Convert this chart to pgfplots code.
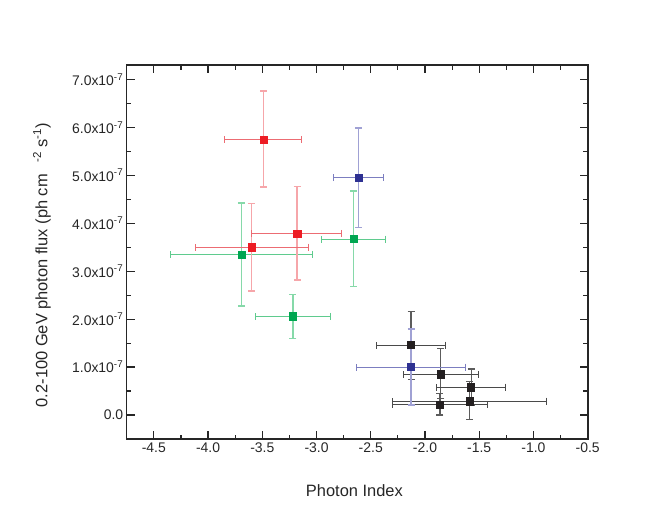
\documentclass[border=0pt]{standalone}
\usepackage{fontspec}
\setmainfont{Liberation Sans}
\usepackage{pgfplots}
\usepackage{pgfplotstable}
\pgfplotsset{compat=1.18}

\definecolor{rmark}{HTML}{ED1C24}
\definecolor{rbarx}{HTML}{EC6C73}
\definecolor{rbary}{HTML}{F6A6AA}
\definecolor{gmark}{HTML}{00A651}
\definecolor{gbarx}{HTML}{5FCB8E}
\definecolor{gbary}{HTML}{86D9A9}
\definecolor{bmark}{HTML}{2E3192}
\definecolor{bbarx}{HTML}{7C7EC0}
\definecolor{bbary}{HTML}{A0A1D4}
\definecolor{kmark}{HTML}{231F20}
\definecolor{kbarx}{HTML}{4A4A4A}
\definecolor{kbary}{HTML}{5C5C5C}

% y in units of 1e-7 ph cm^-2 s^-1, asymmetric errors
\pgfplotstableread{
x       y     xp     xm     yp    ym
-3.693  3.35  0.653  0.653  1.07  1.08
-2.660  3.67  0.294  0.295  1.00  0.99
-3.218  2.06  0.349  0.347  0.45  0.46
}\tabgreen
\pgfplotstableread{
x       y     xp     xm     yp    ym
-3.490  5.75  0.355  0.360  1.01  1.00
-3.178  3.79  0.410  0.418  0.98  0.98
-3.600  3.50  0.523  0.516  0.91  0.91
}\tabred
\pgfplotstableread{
x       y     xp     xm     yp    ym
-2.129  1.46  0.322  0.322  0.70  0.71
-1.853  0.85  0.343  0.344  0.53  0.50
-1.575  0.58  0.313  0.315  0.38  0.38
-1.590  0.29  0.712  0.714  0.40  0.39
-1.862  0.22  0.442  0.442  0.23  0.22
}\tabblack
\pgfplotstableread{
x       y     xp     xm     yp    ym
-2.614  4.95  0.230  0.227  1.04  1.04
-2.129  1.00  0.506  0.506  0.79  0.79
}\tabblue

\pgfplotsset{
  pt/.style={only marks, mark=square*, mark size=3.6bp, mark options={draw=#1, fill=#1}},
  ebx/.style n args={2}{
    error bars/.cd, x dir=both, x explicit,
      error bar style={draw=#1, line width=#2},
      error mark options={rotate=90, draw=#1, line width=#2, mark size=3.5bp},
  },
  eby/.style n args={2}{
    error bars/.cd, y dir=both, y explicit,
      error bar style={draw=#1, line width=#2},
      error mark options={rotate=90, draw=#1, line width=#2, mark size=3.5bp},
  },
}

\begin{document}
\begin{tikzpicture}
\useasboundingbox (-126.7bp,-91bp) rectangle (527.3bp,439bp);
\begin{axis}[
  at={(0,0)}, anchor=south west,
  scale only axis, width=461bp, height=374bp,
  xmin=-4.75, xmax=-0.5, ymin=-0.5, ymax=7.3,
  xtick={-4.5,-4,-3.5,-3,-2.5,-2,-1.5,-1,-0.5},
  xticklabels={-4.5,-4.0,-3.5,-3.0,-2.5,-2.0,-1.5,-1.0,-0.5},
  ytick={0,1,2,3,4,5,6,7},
  yticklabels={0.0,1.0x10\textsuperscript{-7},2.0x10\textsuperscript{-7},3.0x10\textsuperscript{-7},
    4.0x10\textsuperscript{-7},5.0x10\textsuperscript{-7},6.0x10\textsuperscript{-7},7.0x10\textsuperscript{-7}},
  scaled y ticks=false, scaled x ticks=false,
  minor x tick num=1, minor y tick num=1,
  tick align=inside, major tick length=8bp, minor tick length=4.5bp,
  axis line style={line width=1.6bp, black!85},
  every tick/.style={line width=1.2bp, black!85},
  tick label style={font=\fontsize{14}{16}\selectfont, black!85},
  xlabel={Photon Index},
  ylabel={0.2-100 GeV photon flux (ph cm\hspace{0.7em}\textsuperscript{-2} s\textsuperscript{-1})},
  label style={font=\fontsize{16.5}{19}\selectfont, black!85},
  xlabel style={at={(axis description cs:0.494,-0.139)}, anchor=center},
  ylabel style={at={(axis description cs:-0.184,0.465)}, anchor=center, rotate=0},
  clip=false,
]
% green
\addplot[pt=gmark, eby={gbary}{1.6bp}] table[x=x, y=y, y error plus=yp, y error minus=ym] {\tabgreen};
\addplot[pt=gmark, ebx={gbarx}{1bp}] table[x=x, y=y, x error plus=xp, x error minus=xm] {\tabgreen};
% red
\addplot[pt=rmark, eby={rbary}{1.6bp}] table[x=x, y=y, y error plus=yp, y error minus=ym] {\tabred};
\addplot[pt=rmark, ebx={rbarx}{1bp}] table[x=x, y=y, x error plus=xp, x error minus=xm] {\tabred};
% black
\addplot[pt=kmark, eby={kbary}{1.1bp}] table[x=x, y=y, y error plus=yp, y error minus=ym] {\tabblack};
\addplot[pt=kmark, ebx={kbarx}{0.9bp}] table[x=x, y=y, x error plus=xp, x error minus=xm] {\tabblack};
% blue
\addplot[pt=bmark, eby={bbary}{1.6bp}] table[x=x, y=y, y error plus=yp, y error minus=ym] {\tabblue};
\addplot[pt=bmark, ebx={bbarx}{1bp}] table[x=x, y=y, x error plus=xp, x error minus=xm] {\tabblue};
\end{axis}
\end{tikzpicture}
\end{document}
